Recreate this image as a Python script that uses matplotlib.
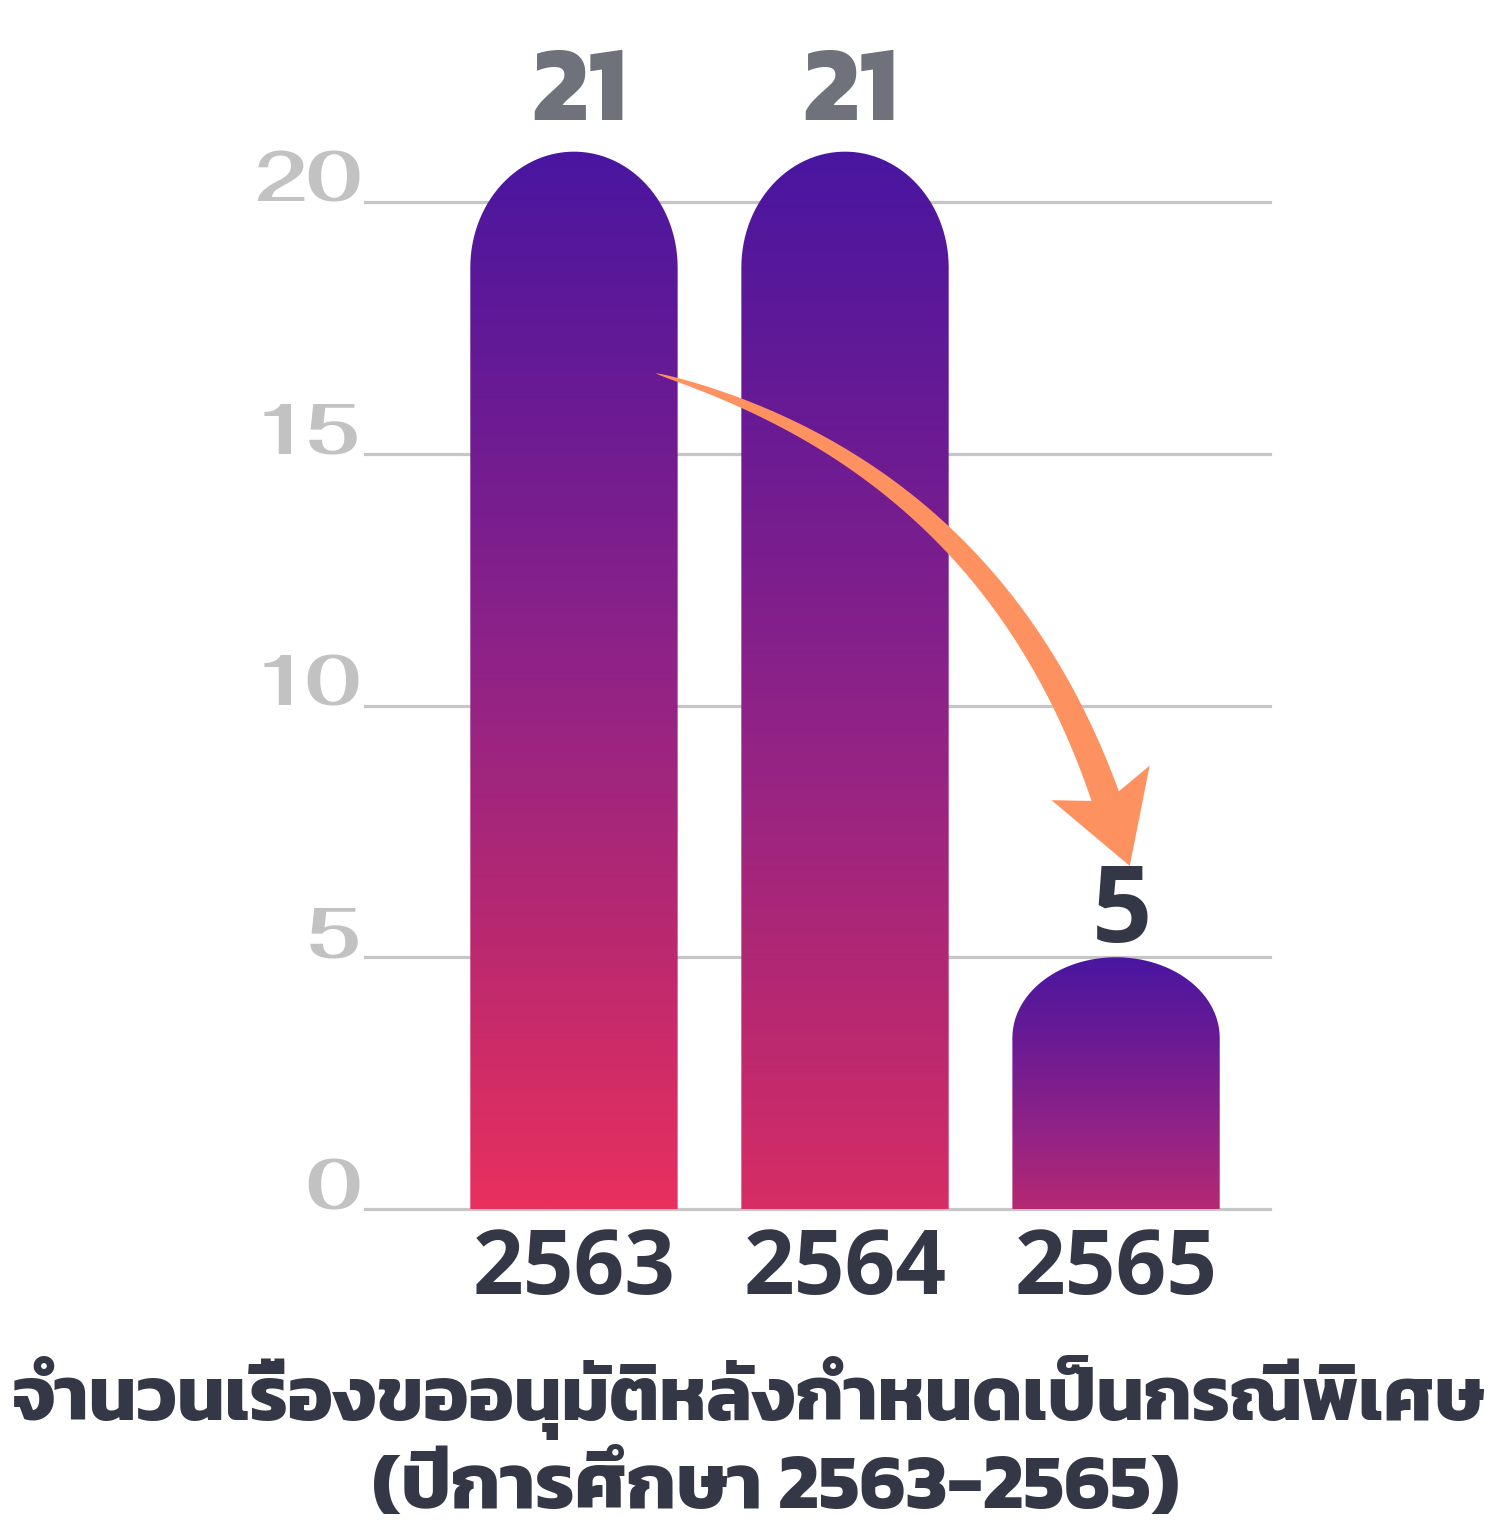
import numpy as np
import matplotlib
matplotlib.use("Agg")
import matplotlib.pyplot as plt
from matplotlib.path import Path
from matplotlib.patches import PathPatch, Polygon
from matplotlib.colors import LinearSegmentedColormap

# data
years = ["2563", "2564", "2565"]
counts = [21, 21, 5]
yticks = [0, 5, 10, 15, 20]
title1 = "จำนวนเรื่องขออนุมัติหลังกำหนดเป็นกรณีพิเศษ"
title2 = "(ปีการศึกษา 2563-2565)"

# style
bar_w = 0.765
caps = [2.3, 2.3, 1.6]          # height of the rounded top, in y units
grad_end = [1.0, 0.9, 0.72]     # how far down the colour ramp each bar goes
lab_colors = ["#6f727b", "#6f727b", "#343846"]
lab_fonts = [["Kanit", "DejaVu Sans"], ["Kanit", "DejaVu Sans"], ["Open Sans", "DejaVu Sans"]]
lab_sizes = [78, 78, 76]
lab_offsets = [0.62, 0.62, 0.3]
dark = "#343846"
thai = ["Kanit", "DejaVu Sans"]

cmap = LinearSegmentedColormap.from_list(
    "bars", ["#4a16a0", "#6c1b93", "#922386", "#ba296f", "#e9305e"])

W, H = 1506, 1526
fig = plt.figure(figsize=(W / 100, H / 100), dpi=100)
ax = fig.add_axes([365 / W, (H - 1209) / H, (1270 - 365) / W, (1209 - 101.3) / H])
ax.set_xlim(-0.771, 2.568)
ax.set_ylim(0, 22)

# gridlines
ax.set_axisbelow(True)
ax.yaxis.grid(True, color="#c6c6c6", lw=2.3)
for s in ax.spines.values():
    s.set_visible(False)
ax.tick_params(length=0)

# rounded bars filled with a vertical gradient
for i, v in enumerate(counts):
    x0, x1 = i - bar_w / 2, i + bar_w / 2
    cap = caps[i]
    th = np.linspace(np.pi, 0, 60)
    arc = np.column_stack([i + bar_w / 2 * np.cos(th), v - cap + cap * np.sin(th)])
    verts = np.vstack([[x0, 0], [x0, v - cap], arc, [x1, v - cap], [x1, 0], [x0, 0]])
    codes = [Path.MOVETO] + [Path.LINETO] * (len(verts) - 2) + [Path.CLOSEPOLY]
    patch = PathPatch(Path(verts, codes), facecolor="none", edgecolor="none",
                      transform=ax.transData)
    ax.add_patch(patch)
    ramp = cmap(np.linspace(grad_end[i], 0, 256))[:, None, :]
    im = ax.imshow(ramp, extent=[x0, x1, 0, v], origin="lower", aspect="auto",
                   interpolation="bilinear", zorder=2)
    im.set_clip_path(patch)
    ax.text(i + 0.02, v + lab_offsets[i], str(v), ha="center", va="baseline",
            fontsize=lab_sizes[i], color=lab_colors[i], family=lab_fonts[i],
            weight="bold", zorder=6)

ax.set_xlim(-0.771, 2.568)
ax.set_ylim(0, 22)

# ticks
ax.set_xticks(range(len(years)), years)
for t in ax.get_xticklabels():
    t.set_family(["Open Sans", "DejaVu Sans"])
    t.set_weight("bold")
    t.set_fontsize(64)
    t.set_color(dark)
ax.tick_params(axis="x", pad=12)
ax.set_yticks(yticks, [str(t) for t in yticks])
for t in ax.get_yticklabels():
    t.set_family(["Fahkwang", "DejaVu Sans"])
    t.set_weight("bold")
    t.set_fontsize(52)
    t.set_color("#c2c2c2")
    t.set_verticalalignment("baseline")
ax.tick_params(axis="y", pad=3)
for gl in ax.get_ygridlines():
    gl.set_clip_on(False)

# curved tapered arrow from the first bar down to the last
def arrow_poly():
    tr = ax.transData
    p0 = tr.transform((0.3, counts[0] - 4.4))
    p1 = tr.transform((1.535, counts[0] - 6.3))
    p2 = tr.transform((1.96, counts[2] + 3.2))
    t = np.linspace(0, 1, 120)[:, None]
    pts = (1 - t) ** 2 * p0 + 2 * (1 - t) * t * p1 + t ** 2 * p2
    d = 2 * (1 - t) * (p1 - p0) + 2 * t * (p2 - p1)
    d = d / np.linalg.norm(d, axis=1, keepdims=True)
    n = np.column_stack([-d[:, 1], d[:, 0]])
    w = 29 * t ** 0.6
    left = pts + n * w / 2
    right = pts - n * w / 2
    u, nn = d[-1], n[-1]
    tip = p2 + u * 74
    lb = p2 - u * 14 + nn * 52
    rb = p2 - u * 14 - nn * 52
    poly = np.vstack([left, lb, tip, rb, right[::-1]])
    return tr.inverted().transform(poly)

ax.add_patch(Polygon(arrow_poly(), closed=True, facecolor="#fe9160",
                     edgecolor="none", zorder=5, clip_on=False))

# title
fig.text(12 / W, (H - 1420) / H, title1, ha="left", va="baseline", fontsize=54.5,
         weight="bold", color=dark, family=thai)
fig.text(776 / W, (H - 1508) / H, title2, ha="center", va="baseline", fontsize=56,
         weight="bold", color=dark, family=thai)

fig.savefig("out.png", dpi=100, facecolor="white")
